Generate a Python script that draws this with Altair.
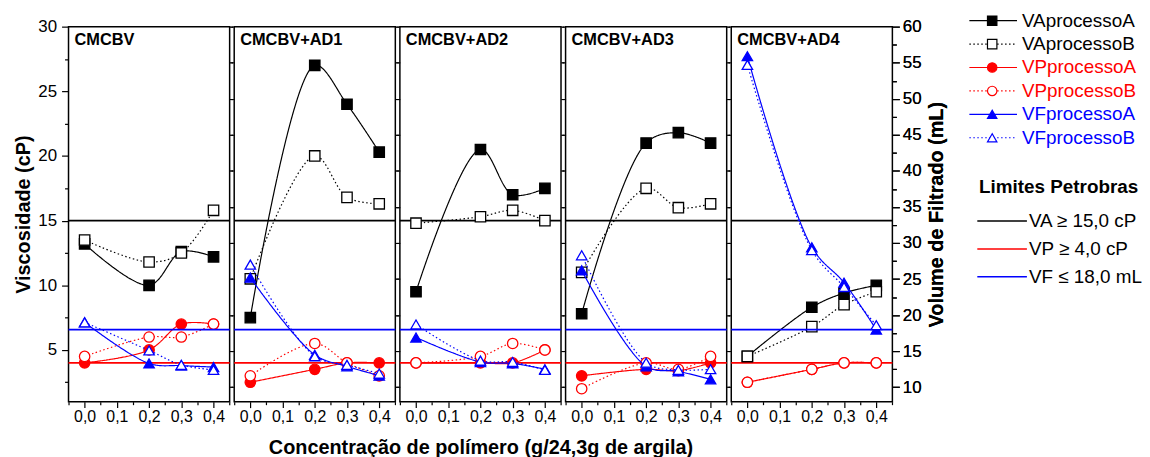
import altair as alt
import pandas as pd

FONT = "Liberation Sans"

# ---------------- data ----------------
conc = [0.0, 0.2, 0.3, 0.4]
panels = ["CMCBV", "CMCBV+AD1", "CMCBV+AD2", "CMCBV+AD3", "CMCBV+AD4"]

# Viscosidade aparente (cP)
va_a = [[13.2, 10.0, 12.6, 12.2], [7.5, 27.0, 24.0, 20.3], [9.5, 20.5, 17.0, 17.5],
        [7.8, 21.0, 21.8, 21.0], [4.5, 8.3, 9.4, 10.0]]
va_b = [[13.5, 11.8, 12.5, 15.8], [10.5, 20.0, 16.8, 16.3], [14.8, 15.3, 15.8, 15.0],
        [11.0, 17.5, 16.0, 16.3], [4.5, 6.8, 8.5, 9.5]]
# Viscosidade plastica (cP)
vp_a = [[4.0, 5.0, 7.0, 7.0], [2.5, 3.5, 4.0, 4.0], [4.0, 4.0, 4.0, 5.0],
        [3.0, 3.5, 3.4, 4.0], [2.5, 3.5, 4.0, 4.0]]
vp_b = [[4.5, 6.0, 6.0, 7.0], [3.0, 5.5, 4.0, 3.0], [4.0, 4.5, 5.5, 5.0],
        [2.0, 4.0, 3.5, 4.5], [2.5, 3.5, 4.0, 4.0]]
# Volume de filtrado (mL)
vf_a = [[19.0, 13.3, 13.0, 12.8], [25.2, 14.5, 12.9, 11.6], [16.9, 13.5, 13.3, 12.5],
        [26.2, 12.9, 12.2, 11.1], [55.9, 29.4, 24.5, 18.0]]
vf_b = [[19.0, 15.1, 13.1, 12.4], [27.0, 14.3, 13.1, 11.9], [18.7, 13.7, 13.5, 12.4],
        [28.3, 13.4, 12.4, 12.5], [54.7, 29.0, 23.9, 18.6]]

series = ["VAprocessoA", "VAprocessoB", "VPprocessoA", "VPprocessoB", "VFprocessoA", "VFprocessoB"]
series_values = [va_a, va_b, vp_a, vp_b, vf_a, vf_b]
series_axis = ["left", "left", "left", "left", "right", "right"]

limit_labels = ["VA \u2265 15,0 cP", "VP \u2265 4,0 cP", "VF \u2264 18,0 mL"]
limit_values = [15.0, 4.0, 18.0]
limit_axis = ["left", "left", "right"]
limits_title = "Limites Petrobras"

x_title = "Concentração de polímero (g/24,3g de argila)"
yl_title = "Viscosidade (cP)"
yr_title = "Volume de Filtrado (mL)"

# ---------------- styles ----------------
series_colors = ["#000000", "#000000", "#ff0000", "#ff0000", "#0000ff", "#0000ff"]
series_fills = ["#000000", "#ffffff", "#ff0000", "#ffffff", "#0000ff", "#ffffff"]
series_shapes = ["square", "square", "circle", "circle", "triangle-up", "triangle-up"]
series_dashes = [[1, 0], [1.5, 2.5], [1, 0], [1.5, 2.5], [1, 0], [1.5, 2.5]]
limit_colors = ["#000000", "#ff0000", "#0000ff"]

color_scale = alt.Scale(domain=series, range=series_colors)
fill_scale = alt.Scale(domain=series, range=series_fills)
shape_scale = alt.Scale(domain=series, range=series_shapes)
dash_scale = alt.Scale(domain=series, range=series_dashes)

LEFT = alt.Scale(domain=[1, 30], nice=False, zero=False)
RIGHT = alt.Scale(domain=[8, 60], nice=False, zero=False)
XS = alt.Scale(domain=[-0.05, 0.45], nice=False, zero=False)

PW, PH = 162.4, 378

rows = []
for pi, pname in enumerate(panels):
    for s, vals, ax in zip(series, series_values, series_axis):
        for x, v in zip(conc, vals[pi]):
            rows.append({"panel": pname, "serie": s, "x": x, "v": v, "ax": ax})
df = pd.DataFrame(rows)

x_ticks = [round(0.05 * i, 2) for i in range(-1, 10)]
yl_ticks = [2.5 * i for i in range(1, 13)]
yr_ticks = [10 + 2.5 * i for i in range(0, 21)]
edge_ticks = [10 + 5 * i for i in range(0, 11)]


def x_axis(show_title):
    kw = dict(
        values=x_ticks,
        labelExpr="round(datum.value*20) % 2 == 0 ? replace(format(datum.value, '.1f'), '.', ',') : ''",
        tickSize={"condition": {"test": "round(datum.value*20) % 2 == 0", "value": 6}, "value": 3},
        labelFontSize=16, labelPadding=1, labelFlush=False, labelOverlap=False,
        domain=False, grid=False, tickColor="black", labelColor="black",
    )
    if show_title:
        kw.update(title=x_title, titleFontSize=20, titleFontWeight="bold", titlePadding=13)
    else:
        kw.update(title=None)
    return alt.Axis(**kw)


left_axis = alt.Axis(
    values=yl_ticks, title=yl_title, orient="left",
    labelExpr="datum.value % 5 == 0 ? datum.label : ''",
    tickSize={"condition": {"test": "datum.value % 5 == 0", "value": 7}, "value": 4},
    labelFontSize=17, labelPadding=5, labelFlush=False,
    titleFontSize=20, titleFontWeight="bold", titlePadding=4,
    domain=False, grid=False,
)
right_axis = alt.Axis(
    values=yr_ticks, title=yr_title, orient="right", titleAngle=270, titleBaseline="top",
    labelExpr="datum.value % 5 == 0 ? datum.label : ''",
    tickSize={"condition": {"test": "datum.value % 5 == 0", "value": 7}, "value": 4},
    labelFontSize=17, labelPadding=3, labelFlush=False,
    titleFontSize=20, titleFontWeight="bold", titlePadding=6,
    domain=False, grid=False,
)


def edge_axis(orient):
    return alt.Axis(orient=orient, values=edge_ticks, labels=False, title=None,
                    tickSize=3, tickWidth=1, domain=False, grid=False)


def make_panel(i):
    pname = panels[i]
    last = len(panels) - 1
    d = df[df.panel == pname]
    xenc = alt.X("x:Q", scale=XS, axis=x_axis(i == 2))

    def group(dd, scale, side):
        if side == "left":
            rule_ax = left_axis if i == 0 else None
            data_ax = rule_ax
        else:
            rule_ax = edge_axis("left") if i > 0 else None
            data_ax = right_axis if i == last else edge_axis("right")
        layers = []
        for lab, val, a, col in zip(limit_labels, limit_values, limit_axis, limit_colors):
            if a != side:
                continue
            layers.append(
                alt.Chart(pd.DataFrame({"v": [val]}))
                .mark_rule(color=col, strokeWidth=1.7)
                .encode(y=alt.Y("v:Q", scale=scale, axis=rule_ax))
            )
        base = alt.Chart(dd)
        layers.append(
            base.mark_line(interpolate="catmull-rom", strokeWidth=1.2).encode(
                x=xenc,
                y=alt.Y("v:Q", scale=scale, axis=data_ax),
                color=alt.Color("serie:N", scale=color_scale, legend=None),
                strokeDash=alt.StrokeDash("serie:N", scale=dash_scale, legend=None),
            )
        )
        layers.append(
            base.mark_point(filled=True, size=110, strokeWidth=1.3, opacity=1).encode(
                x=xenc,
                y=alt.Y("v:Q", scale=scale, axis=data_ax),
                shape=alt.Shape("serie:N", scale=shape_scale, legend=None),
                fill=alt.Fill("serie:N", scale=fill_scale, legend=None),
                stroke=alt.Stroke("serie:N", scale=color_scale, legend=None),
            )
        )
        g = alt.layer(*layers)
        if side == "right":
            g = g.resolve_axis(y="independent")
        return g

    left_g = group(d[d.ax == "left"], LEFT, "left")
    right_g = group(d[d.ax == "right"], RIGHT, "right")
    title = (
        alt.Chart(pd.DataFrame({"t": [pname]}))
        .mark_text(align="left", baseline="alphabetic", fontSize=16.5, fontWeight="bold",
                   font=FONT, color="black")
        .encode(text="t:N", x=alt.value(6), y=alt.value(18))
    )
    return (
        alt.layer(left_g, right_g, title)
        .resolve_scale(y="independent")
        .properties(width=PW, height=PH,
                    view=alt.ViewBackground(stroke="black", strokeWidth=1.5))
    )


# ---------------- legend ----------------
leg_df = pd.DataFrame({"serie": series, "ly": [-6 + 23.6 * k for k in range(len(series))]})
leg_base = alt.Chart(leg_df)
leg_layers = [
    leg_base.mark_rule(strokeWidth=1.2).encode(
        x=alt.value(73), x2=alt.value(121), y=alt.Y("ly:Q", scale=None),
        color=alt.Color("serie:N", scale=color_scale, legend=None),
        strokeDash=alt.StrokeDash("serie:N", scale=dash_scale, legend=None),
    ),
    leg_base.mark_point(filled=True, size=90, strokeWidth=1.2, opacity=1).encode(
        x=alt.value(96), y=alt.Y("ly:Q", scale=None),
        shape=alt.Shape("serie:N", scale=shape_scale, legend=None),
        fill=alt.Fill("serie:N", scale=fill_scale, legend=None),
        stroke=alt.Stroke("serie:N", scale=color_scale, legend=None),
    ),
    leg_base.mark_text(align="left", baseline="middle", fontSize=19, font=FONT).encode(
        x=alt.value(126), y=alt.Y("ly:Q", scale=None), text="serie:N",
        color=alt.Color("serie:N", scale=color_scale, legend=None),
    ),
    alt.Chart(pd.DataFrame({"t": [limits_title]}))
    .mark_text(align="center", baseline="middle", fontSize=19, fontWeight="bold", font=FONT, color="black")
    .encode(text="t:N", x=alt.value(163), y=alt.value(162)),
]
for k, (lab, col) in enumerate(zip(limit_labels, limit_colors)):
    ly = 196 + 28 * k
    ldf = pd.DataFrame({"t": [lab]})
    leg_layers.append(
        alt.Chart(ldf).mark_rule(color=col, strokeWidth=1.5).encode(
            x=alt.value(81), x2=alt.value(131), y=alt.value(ly))
    )
    leg_layers.append(
        alt.Chart(ldf).mark_text(align="left", baseline="middle", fontSize=19, font=FONT, color="black")
        .encode(text="t:N", x=alt.value(133), y=alt.value(ly))
    )
legend = alt.layer(*leg_layers).properties(width=236, height=PH)

chart = (
    alt.hconcat(*[make_panel(i) for i in range(len(panels))], legend, spacing=4, bounds="flush")
    .properties(padding={"left": 5, "top": 2, "right": 0, "bottom": 0})
    .configure(font=FONT)
    .configure_view(stroke=None)
    .configure_axis(labelFont=FONT, titleFont=FONT, labelColor="black", titleColor="black",
                    tickColor="black", tickWidth=1.2)
)

chart.save("out.html", embed_options={"renderer": "svg", "actions": False})
